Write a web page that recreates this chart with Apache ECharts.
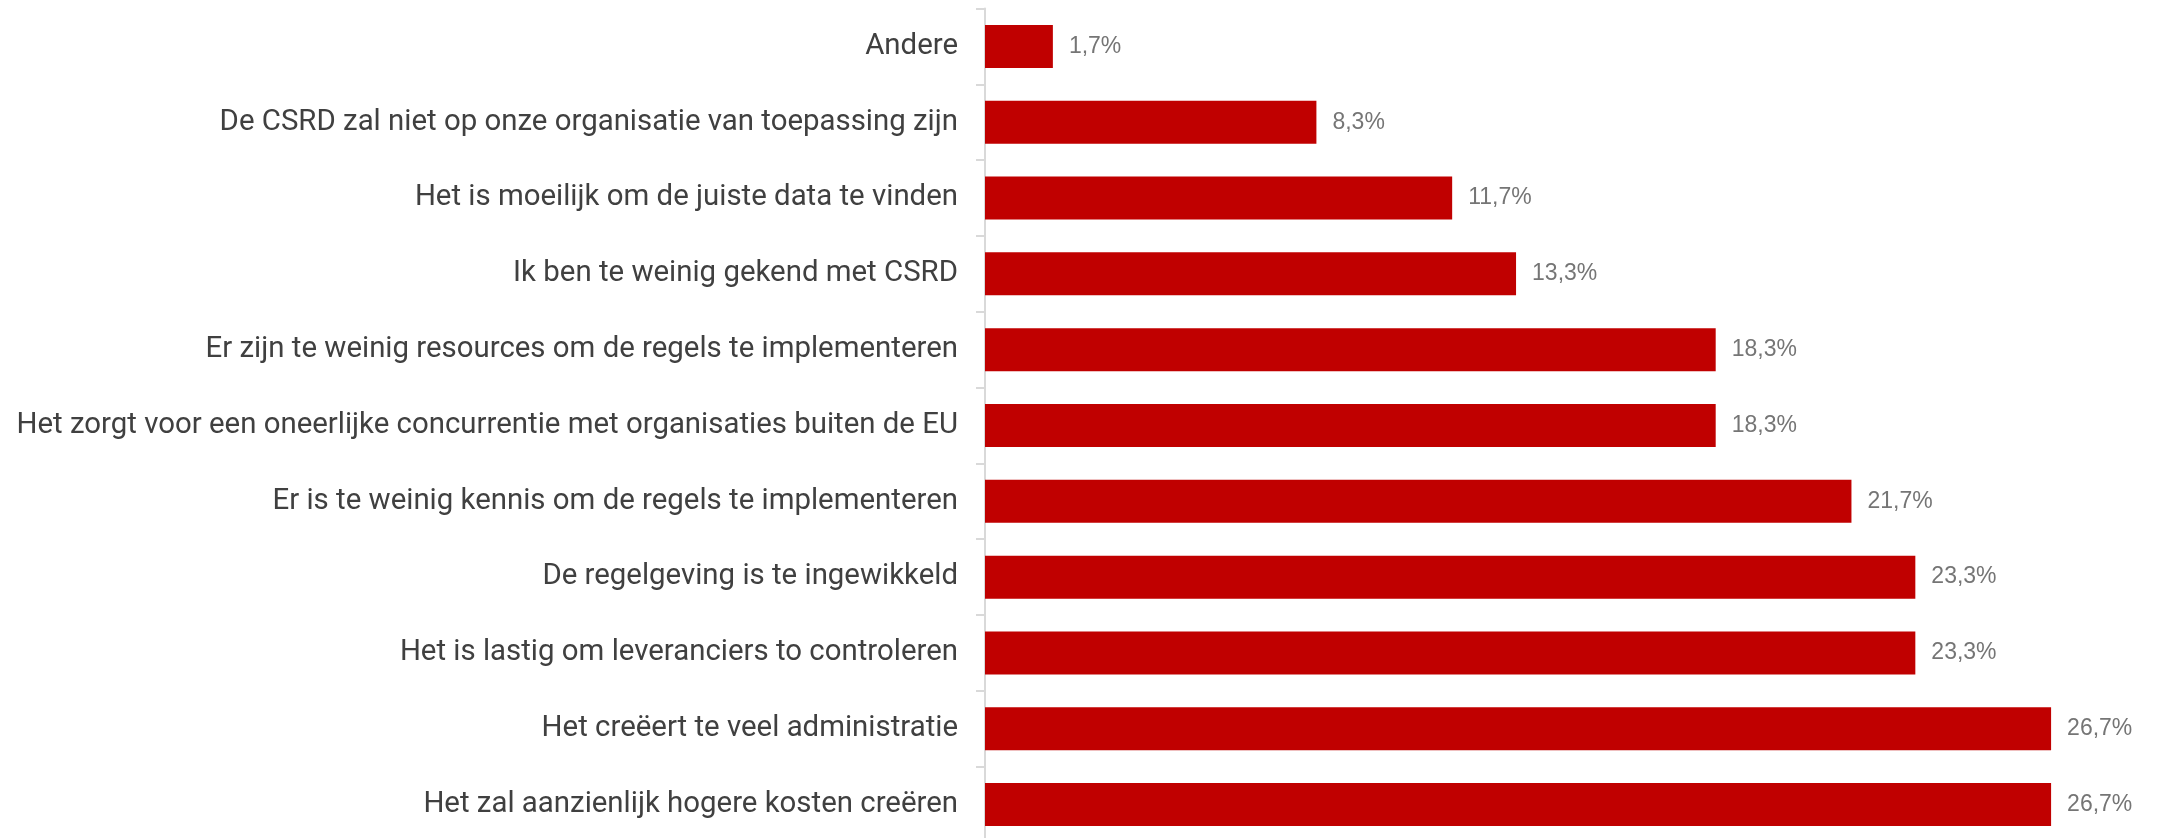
<!DOCTYPE html>
<html lang="nl">
<head>
    <meta charset="UTF-8">
    <title>CSRD</title>
    <script src="https://cdn.jsdelivr.net/npm/echarts@6/dist/echarts.min.js"></script>
    <style>
        html, body { margin: 0; padding: 0; background: #fff; }
    </style>
</head>
<body>
<div id="chartBox" style="width: 2158px; height: 838px;"></div>
<script>
    // categorieën (van boven naar onder)
    var categories = [
        'Andere',
        'De CSRD zal niet op onze organisatie van toepassing zijn',
        'Het is moeilijk om de juiste data te vinden',
        'Ik ben te weinig gekend met CSRD',
        'Er zijn te weinig resources om de regels te implementeren',
        'Het zorgt voor een oneerlijke concurrentie met organisaties buiten de EU',
        'Er is te weinig kennis om de regels te implementeren',
        'De regelgeving is te ingewikkeld',
        'Het is lastig om leveranciers to controleren',
        'Het creëert te veel administratie',
        'Het zal aanzienlijk hogere kosten creëren'
    ];

    // percentages
    var values = [1.7, 8.3, 11.7, 13.3, 18.3, 18.3, 21.7, 23.3, 23.3, 26.7, 26.7];

    var chart = echarts.init(document.getElementById('chartBox'));

    var option = {
        animation: false,
        grid: {
            left: 985,
            top: 8.5,
            width: 1118,
            height: 834,
            outerBoundsMode: 'none'
        },
        xAxis: {
            type: 'value',
            min: 0,
            max: 28,
            show: false
        },
        yAxis: {
            type: 'category',
            data: categories,
            inverse: true,
            axisLine: {
                show: true,
                lineStyle: { color: '#d9d9d9', width: 2 }
            },
            axisTick: {
                show: true,
                length: 9,
                lineStyle: { color: '#d9d9d9', width: 2 }
            },
            axisLabel: {
                margin: 27,
                color: '#404040',
                fontFamily: 'Roboto',
                fontSize: 29.4
            }
        },
        series: [{
            type: 'bar',
            data: values,
            barWidth: 43,
            itemStyle: { color: '#C00000' },
            label: {
                show: true,
                position: 'right',
                distance: 16,
                color: '#757575',
                fontFamily: 'Liberation Sans',
                fontSize: 23,
                formatter: function (p) {
                    return p.value.toFixed(1).replace('.', ',') + '%';
                }
            }
        }]
    };

    chart.setOption(option);
</script>
</body>
</html>
